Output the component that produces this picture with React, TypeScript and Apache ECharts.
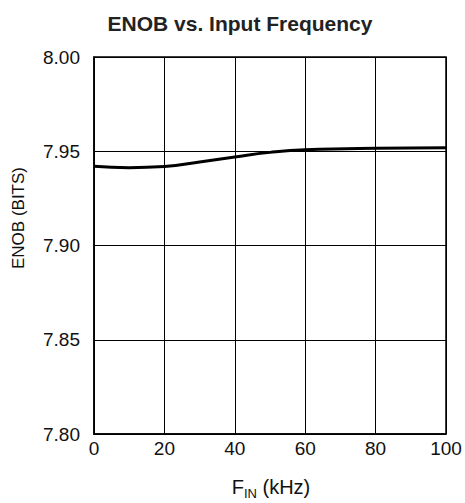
import React, { useEffect, useRef } from "react";
import * as echarts from "echarts";

const freqKHz = [0, 10, 20, 30, 40, 50, 60, 80, 100];
const enobBits = [7.942, 7.9413, 7.9419, 7.9443, 7.947, 7.9494, 7.9508, 7.9516, 7.9518];
const xTicks = [0, 20, 40, 60, 80, 100];
const yTicks = [7.8, 7.85, 7.9, 7.95, 8.0];

const FONT = "'Liberation Sans', Arial, Helvetica, sans-serif";

export default function App() {
  const ref = useRef<HTMLDivElement>(null);
  useEffect(() => {
    if (!ref.current) return;
    const chart = echarts.init(ref.current, undefined, { renderer: "svg" });
    chart.setOption({
      animation: false,
      backgroundColor: "#ffffff",
      title: {
        text: "ENOB vs. Input Frequency",
        left: 235,
        top: 8,
        textAlign: "center",
        textStyle: { fontFamily: FONT, fontSize: 21, fontWeight: "bold", color: "#222" },
      },
      grid: {
        left: 94,
        right: 19,
        top: 57,
        bottom: 69,
        show: true,
        borderColor: "#000",
        borderWidth: 1.5,
        backgroundColor: "transparent",
      },
      xAxis: {
        type: "value",
        min: xTicks[0],
        max: xTicks[xTicks.length - 1],
        interval: 20,
        axisLine: { show: true, lineStyle: { color: "#000", width: 1.5 } },
        axisTick: { show: false },
        splitLine: { show: true, lineStyle: { color: "#000", width: 1 } },
        axisLabel: { color: "#111", fontFamily: FONT, fontSize: 19, margin: 5 },
      },
      yAxis: {
        type: "value",
        min: yTicks[0],
        max: yTicks[yTicks.length - 1],
        interval: 0.05,
        axisLine: { show: true, lineStyle: { color: "#000", width: 1.5 } },
        axisTick: { show: false },
        splitLine: { show: true, lineStyle: { color: "#000", width: 1 } },
        axisLabel: {
          color: "#111",
          fontFamily: FONT,
          fontSize: 19,
          margin: 14,
          formatter: (v: number) => v.toFixed(2),
        },
      },
      graphic: [
        {
          type: "text",
          x: 18,
          y: 218,
          rotation: Math.PI / 2,
          style: {
            text: "ENOB (BITS)",
            fontFamily: FONT,
            fontSize: 17,
            fill: "#111",
            textAlign: "center",
            textVerticalAlign: "middle",
          },
        },
        {
          type: "text",
          x: 271,
          y: 487,
          style: {
            text: "{a|F}{s|IN}{a| (kHz)}",
            textAlign: "center",
            textVerticalAlign: "middle",
            rich: {
              a: { fontFamily: FONT, fontSize: 20, fill: "#111", color: "#111" },
              s: { fontFamily: FONT, fontSize: 13, fill: "#111", color: "#111", padding: [12, 0, 0, 0] },
            },
          },
        },
      ],
      series: [
        {
          type: "line",
          data: freqKHz.map((f, i) => [f, enobBits[i]]),
          smooth: 0.5,
          showSymbol: false,
          lineStyle: { color: "#000", width: 3 },
        },
      ],
    });
    return () => chart.dispose();
  }, []);
  return <div ref={ref} style={{ position: "absolute", left: 0, top: 0, width: 465, height: 503 }} />;
}
